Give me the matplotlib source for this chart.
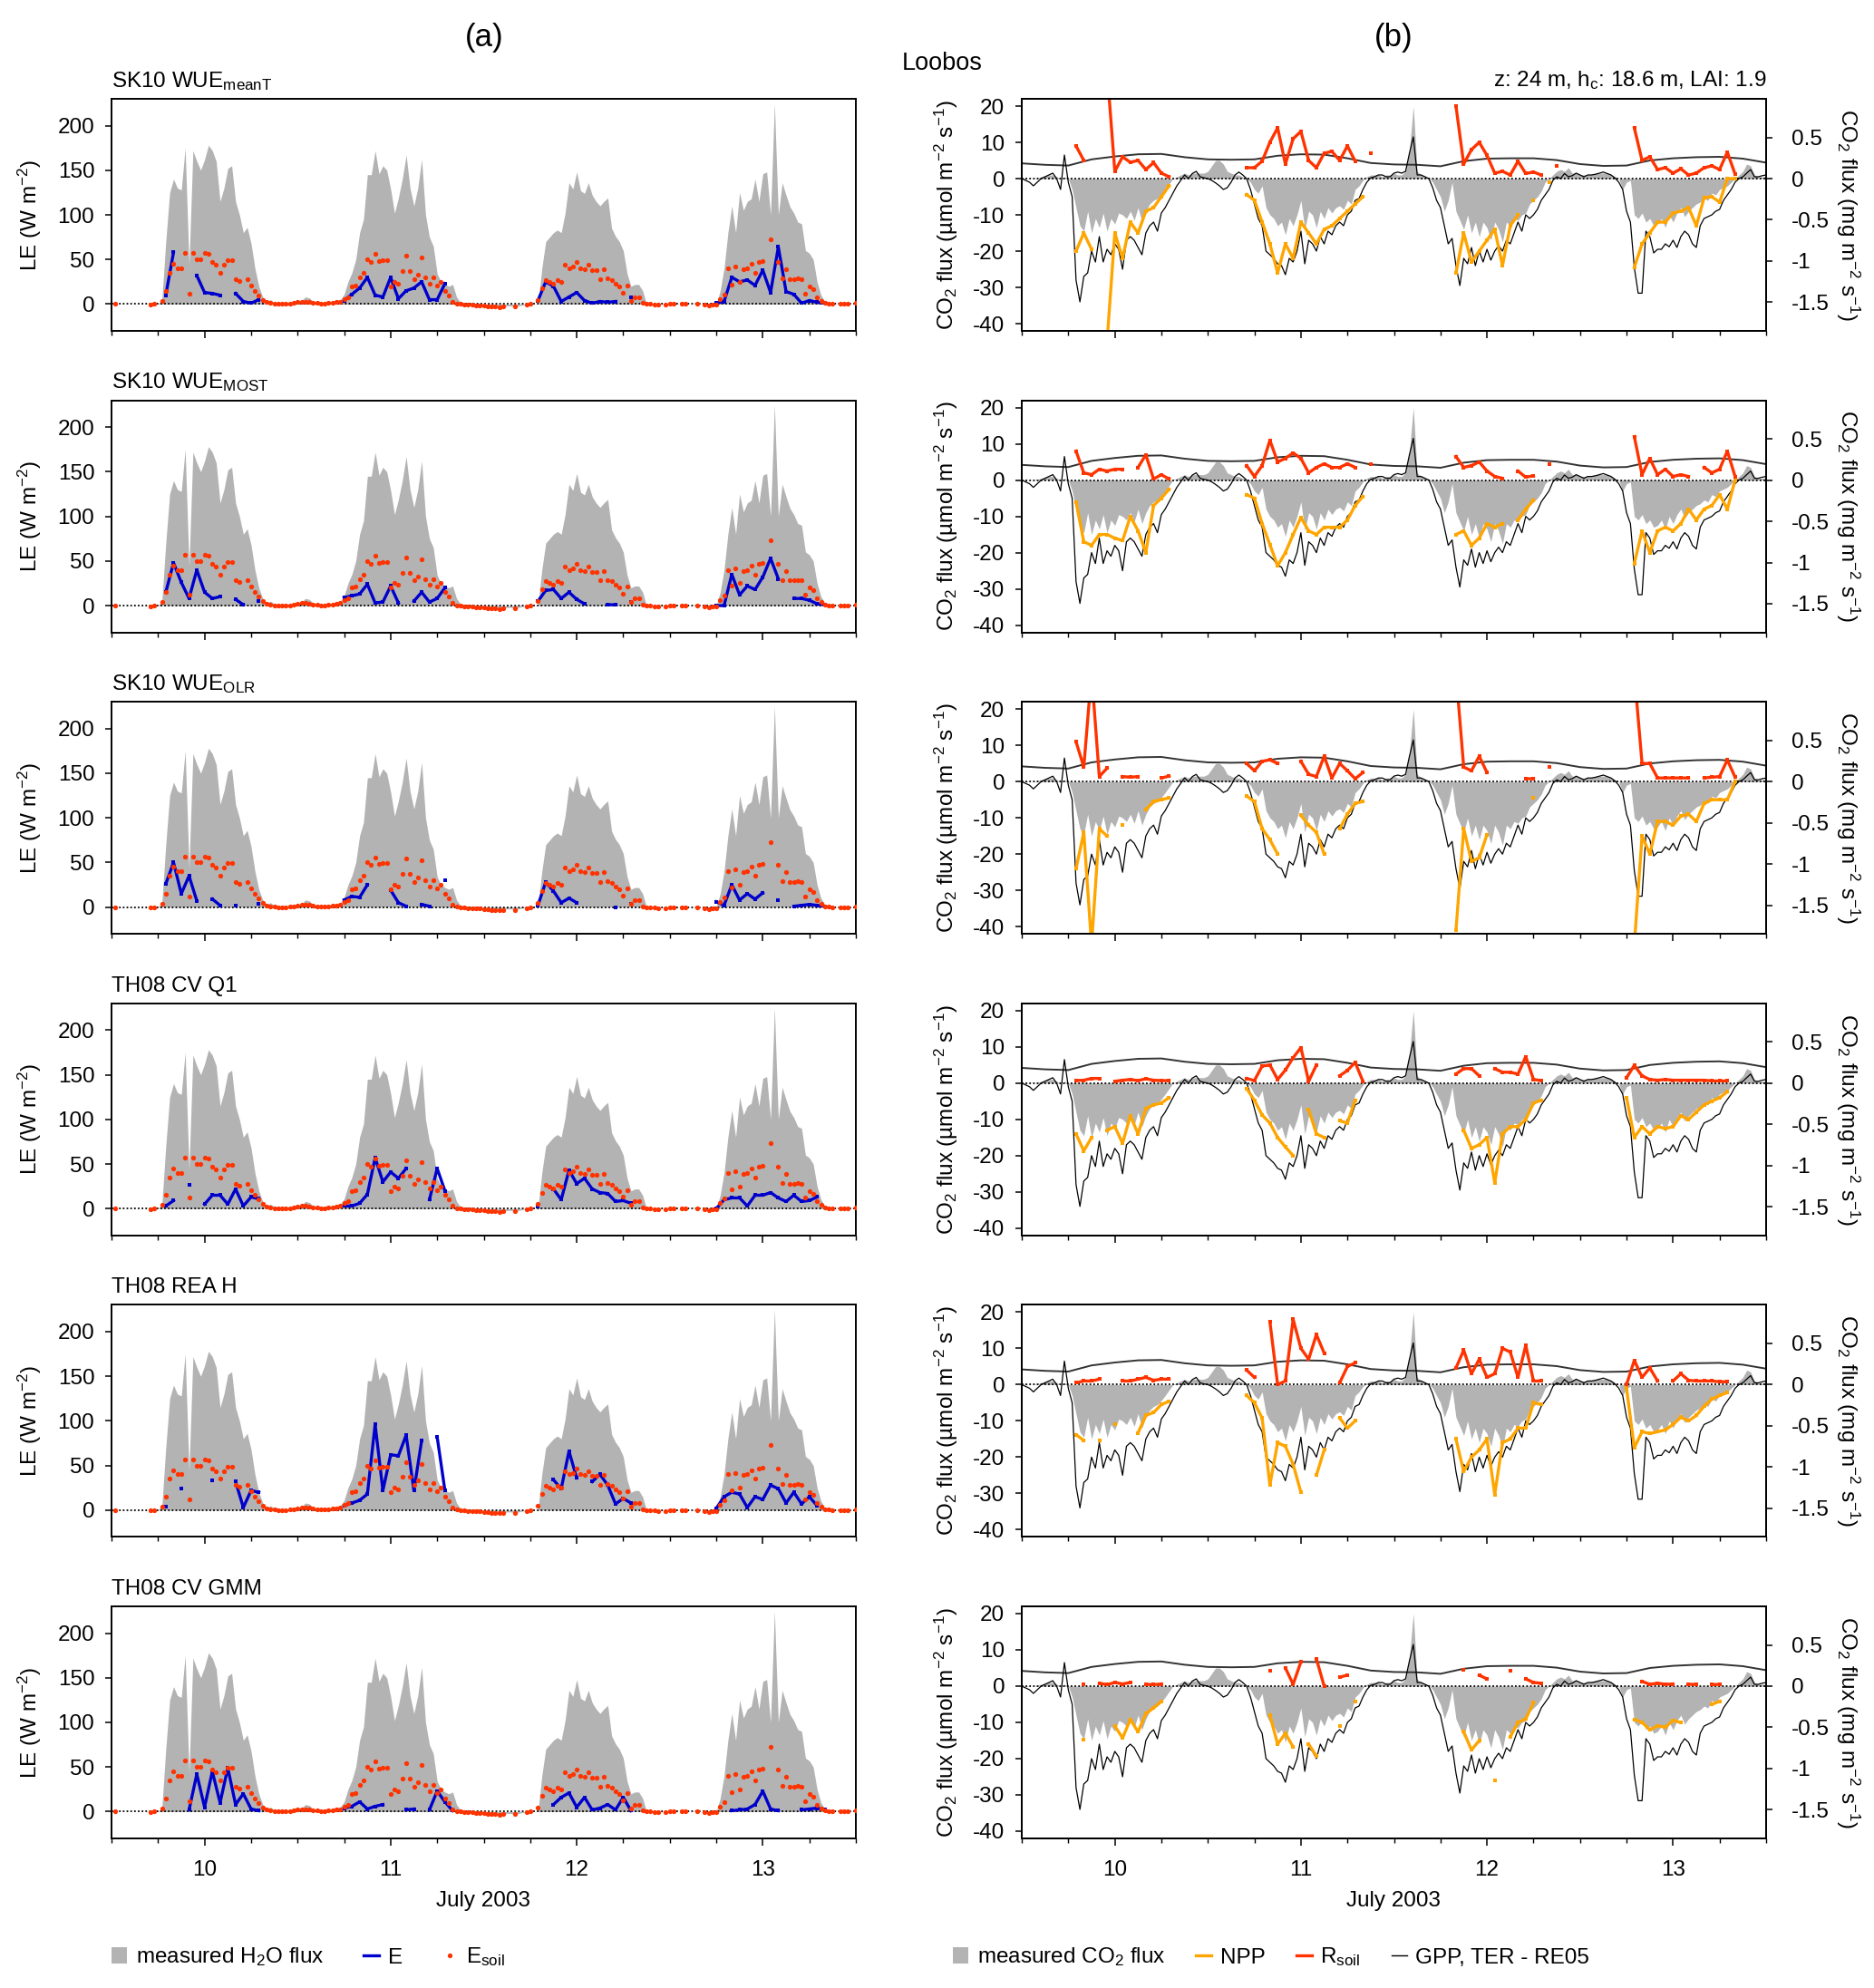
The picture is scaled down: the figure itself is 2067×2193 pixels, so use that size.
import numpy as np
import matplotlib
matplotlib.use('Agg')
import matplotlib.pyplot as plt
from matplotlib.patches import Patch
from matplotlib.lines import Line2D

plt.rcParams['font.family'] = ['Liberation Sans', 'DejaVu Sans']
plt.rcParams['mathtext.default'] = 'regular'
plt.rcParams['axes.unicode_minus'] = False

n = np.nan

# time axes (days of July 2003, label sits at noon)
t_hh = 9.5 + np.arange(193) / 48.0   # half-hourly
t_h = 9.5 + np.arange(97) / 24.0     # hourly
t_3h = 9.5 + np.arange(33) / 8.0     # 3-hourly

# ---- shared series, half-hourly ----
h2o_meas = [0, 0, 0, 0, 0, 0, 0, 0, 0, 0, 0, 0, 0,
            5, 70, 125, 140, 130, 128, 175, 44, 172, 160, 150, 162, 178, 172, 160, 115, 130, 152, 155,
            115, 100, 80, 86, 68, 40, 20, 8, 3, 5, 2, 1, 0, 0, 0, 0,
            0, 4, 8, 7, 3, 2, 2, 2, 3, 2,
            0, 5, 11, 25, 35, 50, 80, 95, 145, 145, 172, 146, 155, 150, 129, 102, 119, 140, 167, 130,
            110, 130, 162, 100, 75, 65, 34, 25, 22, 20, 22, 8, 2,
            0, -1, -2, -2, -3, -3, -4, -3, -3, -4, -3, -2, -2, -3, -2, -1, -1, 0, 0,
            0, 40, 70, 75, 80, 83, 80, 102, 136, 129, 148, 127, 124, 136, 122, 115, 110, 115, 119, 85,
            76, 70, 60, 34, 20, 22, 22, 15, 0,
            0, 0, 0, 0, 0, 0, 0, 0, 0, 0, 0, 0, 0, 0, 0, 0, 0,
            0, 15, 40, 80, 110, 80, 125, 105, 115, 118, 140, 115, 146, 148, 100, 225, 100, 136, 122, 109,
            102, 92, 90, 60, 57, 50, 25, 10, 3, 0, 0, 0, 0, 0, 0, 0, 0]

esoil = [n, 0, n, n, n, n, n, n, n, n, -0.5, 0, n,
         4, 15, 35, 45, 40, 40, 57, 12, 57, 50, 50, 57, 56, 47, 44, 35, 44, 49, 49, 28, 26, n, 28, 21,
         15, 10, 5, 2,
         1, 0.5, 0, 0, 0, 0.5, 1, 2, 3, 3, 2.5, 1.5, 1, 0.5, 0.5, 1, 1.5, 2,
         3, 6, 8, 20, 21, 30, 35, 50, 47, 56, 48, 49, 49, 20, 25, 23, 37, 54, 37, 28, 33, 52, 30, 23,
         30, 21, 25, 15, 10, 3,
         0.5, 0, -0.5, -1, -1, -1.5, -1.5, -2, -2.5, -3, -3, -3.5, -3,
         n, n, -3, n, n, -1, 0, n,
         5, 18, 27, 25, 23, 27, 25, 44, 40, 42, 47, 40, 39, 44, 38, 38, 28, 39, 29, 27, 23, 20, 13, 21,
         4, 8, 8, 1,
         0, 0, -0.5, -1, n, -1, 0, 0, n, 0, 0, n, n, 0, n, -1, -2, -1,
         -1, 6, 11, 40, 22, 42, 25, 39, 40, 45, 35, 47, 48, n, 73, n, 47, 29, 39, 28, 28, 29, 28, 12,
         20, 17, 8, 4, 1, 0.5, 0, n, 0, 0, 0, n, 1]

co2_meas = [0, 0.2, 0, 0, 0.2, 0.5, 0.8, 1, 1, 0.5, 0, 0.5, 0,
            -3, -8, -13, -14.5, -9, -15, -11, -13.5, -9.5, -14.5, -11, -12.5, -9.5, -10, -11, -9, -11.5,
            -8, -12, -9, -7, -6, -5.5, -4.4, -3, -1.5, 0, 0.5, 1,
            1.5, 1, 1.5, 1.5, 1.5, 1.5, 2, 3.5, 5, 5, 4, 2, 1.5, 1, 1, 0.5, 0,
            -1, -3, -4, -2, -8, -10, -11, -13, -12, -15.5, -11, -13, -10, -6, -14, -9, -10, -13.5, -9,
            -11, -8, -9.5, -8, -7.5, -8.5, -6, -7, -3, -2, -0.5, 0.5,
            1, 1, 1, 0.5, 1, 1, 1.5, 1, 1, 2, 8, 20, 2, 1, 0.5, 0.3, -1, -3,
            -5, -9, -6, -1, -9, -11.5, -14, -10, -15, -12, -16, -12, -13.5, -17, -12, -14, -17.5, -12,
            -13, -11, -11.5, -10, -9.5, -7, -6, -5, -3.5, -1, 0, 1,
            2, 2.5, 2, 3, 1.5, 1.5, 1, 1, 1, 1.2, 1.5, 1.5, 1.5, 1.5, 1, 0.5, 0,
            -3, -1, -0.5, -10, -11, -9.5, -12, -11, -13, -12.5, -11, -13.5, -10, -12, -9.5, -8, -10.5,
            -9, -8, -7, -6.5, -5.5, -6, -4, -4.5, -3, -2.5, -2, -1, 0, 1, 2, 4, 3.5, 1, 0.5, 0.5, 0.5]

gpp_line = [0, -0.5, -1, -2, -1, 0, 0.5, 1, 1.5, 0, -3, 6.5, -1,
            -5, -28, -34, -27, -26, -20, -23, -16, -23, -19.5, -21, -18, -19.5, -25, -17, -16, -17, -19,
            -21, -15, -13, -12, -14.5, -9.5, -8, -6, -4, -2, -0.5,
            1, 0, 1.4, 2, 0.5, 0.2, 0, -0.5, -1.2, -2, -3, -2.5, -1, 1, 1.8, 1, 0,
            -3, -7, -11, -13, -20, -21, -22, -23.5, -24, -26.5, -22, -23, -20, -14.5, -23.5, -17, -18,
            -20, -16, -18, -14.5, -15.5, -13, -12, -13, -10, -9, -6, -5.5, -3, -1,
            0.2, 0.5, 1, 1, 0.5, 0.5, 1.5, 1.8, 1.5, 2, 7, 11.5, 1, 1, 0.5, 0, -2.5, -6,
            -8, -13, -18, -16.5, -24, -29.5, -22, -23.5, -19, -24, -20, -23, -19.5, -22.5, -20, -18.5,
            -20, -17, -18, -15, -12, -14.5, -10, -11, -10, -8.5, -6, -4.5, -3, -0.5,
            0.5, 0, 1.4, 0.5, 0.8, 1.5, 1, 0.5, 1, 1, 1.2, 1.5, 1.8, 1.4, 1, 0.2, -1,
            -3, -9, -12, -24.5, -31.6, -31.6, -14.5, -16, -20.5, -19.5, -19.5, -18, -18.8, -17, -19, -16,
            -14.5, -15.5, -18, -19, -13, -11, -10.5, -10, -9, -8.5, -6, -4.5, -3, -1, 0, 0.5, 1.5, 2.5,
            0.5, 0.5, 0.8, 1]

ter_line = [4.2, 3.8, 3.6, 5.3, 6.1, 6.7, 6.8, 5.9, 5.3, 5.2, 5.3, 6.3, 6.7, 6.6, 5.6, 4.3, 3.9,
            3.8, 3.4, 4.8, 5.5, 5.6, 5.6, 5.1, 4.0, 3.5, 3.6, 5.0, 5.6, 5.9, 6.0, 5.5, 4.4]


def hourly(d1, d2, d3, d4):
    # day windows: 06-20 h, 05-21 h, 07-21 h, 06-20 h
    return np.array([n] * 6 + d1 + [n] * 8 + d2 + [n] * 9 + d3 + [n] * 8 + d4 + [n] * 4, dtype=float)


# ---- per-panel model outputs, hourly ----
e_meant = hourly([n, 10, 58, n, n, 32, 13, 12, 10, n, 12, 3, 1, 5, n],
                 [n, 4, 11, 18, 30, 10, 8, 30, 6, 15, 18, 25, 5, 5, 23, n, n],
                 [4, 25, 20, 3, 8, 13, 4, 1, 3, 2, 3, n, 8, n, n],
                 [1, 3, 30, 25, 27, 21, 38, 13, 64, 14, 11, 1, 4, 2, 1])
e_most = hourly([n, 15, 48, 26, 8, 40, 15, 8, 10, n, 7, 1, n, 5, n],
                [n, 9, 11, 13, 24, 3, 4, 22, 3, n, 5, 15, 4, 8, 20, n, n],
                [5, 17, 18, 8, 15, 7, 2, n, n, 1, 1, n, 4, n, n],
                [0, 0, 35, 12, 22, 18, 32, 53, 30, n, 8, 8, 6, 2, 1])
e_olr = hourly([n, 26, 50, 15, 35, 7, n, 9, 2, n, 2, n, n, 4, n],
               [n, 8, 12, 11, 25, n, n, 19, 5, 1, n, 3, 1, n, 30, n, n],
               [2, 28, 18, 5, 10, 5, n, n, n, n, 0, n, 4, n, n],
               [6, 2, 25, 8, 15, 9, 16, n, 8, n, 1, 2, 3, 2, 1])
e_q1 = hourly([n, 3, 9, n, 27, n, 5, 15, 15, 5, 22, 3, 13, 11, n],
              [n, 3, 3, 6, 16, 57, 30, 41, 34, 45, n, n, 10, 45, 20, n, n],
              [2, n, 22, 10, 43, 28, 34, 22, 18, 17, 8, 9, 6, n, n],
              [0, 10, 12, 12, 3, 15, 15, 18, 12, 8, 15, 8, 9, 13, n])
e_reah = hourly([n, 4, n, 24, n, n, n, 33, n, n, 32, 3, 22, 20, n],
                [n, 5, 8, 11, 18, 96, 22, 62, 61, 84, 22, 78, n, 82, 22, n, n],
                [n, n, 34, 24, 66, 36, n, 32, 40, 28, 7, 13, 8, n, n],
                [2, 15, 20, 18, 3, 15, 12, 28, 24, 8, 20, 7, 15, 5, n])
e_gmm = hourly([n, n, n, n, 2, 42, 5, 45, 10, 49, 8, 20, 3, 1, n],
               [n, 4, 6, 11, 3, 6, 8, n, n, 2, 3, n, 2, 23, 11, 1, n],
               [n, n, 8, 16, 21, 5, 16, 2, 4, 8, 2, 16, 1, n, n],
               [n, n, 1, 2, 3, 8, 23, 3, 1, n, n, 2, 3, 4, 2])

rs_meant = hourly([n, 9, 5, n, n, 30, 2, 6, 4.5, 5, 2.5, 4.4, 1.5, 0.5, n],
                  [3, 3, 4.8, 10, 14, 4, 11, 13, 5, 3, 7, 7.5, 5, 9, 4.8, n, 7],
                  [n, 20, 4, 8, 10, 6.4, 1.5, 2, 1, 4.8, 1.4, 1.8, 1, n, 3.5],
                  [n, 14, 5, 6, 2.5, 3, 1.5, 2.7, 1, 1.5, 3, 3.5, 2.5, 7.3, 1.2])
npp_meant = hourly([n, -20, -15, -19.5, n, -45, -15, -22, -12, -15, -9, -8, -5, -2, n],
                   [-4.4, -6, -12, -18, -26, -18, -22, -12, -15, -18, -14, -13, -11, -9, -7, -5, n],
                   [n, -26, -15, -23, -20, -17, -14, -24, -13, -10, n, -6, n, -1, n],
                   [n, -24.5, -18, -15, -12, -12, -9.5, -9, -8, -13, -5.3, -5, -6.5, 0, 0])
rs_most = hourly([n, 8, 2, 1.5, 3, 2.5, 3, 3, n, 3.5, 7, 0.3, 1.5, 0.3, n],
                 [4, 1, 4, 11, 5, 6, 7.5, 6, 2, 3.5, 4.5, 3.5, 3.5, 4.5, 3.5, n, 4.5],
                 [n, 6.5, 3.5, 4, 5, 2.5, 1, 0.5, n, 2.5, 0.8, 1.2, n, 4.4, n],
                 [n, 12, 1.5, 6, 1.5, 3, 1, 1.5, 1, n, 3.5, 2, 3, 8, 1])
npp_most = hourly([n, -6, -17, -18, -15, -15, -16, -16.7, -10, -14, -20, -7, -5, -2.5, n],
                  [-4, -5, -12, -17.8, -23.6, -20, -15, -10.3, -14, -15, -13, -13, -13, -11, -7, -4.5, n],
                  [n, -15, -14, -18, -16, -12, -13, -12, n, -11, -8, -5.5, n, n, n],
                  [n, -23, -14, -20, -14, -13, -14, -12, -8, -11, -8, -7, -4, -8, 0])
rs_olr = hourly([n, 11, 4, 30, 1.4, 3.7, n, 1.4, 1.2, 1.4, n, n, 1, 1.5, n],
                [5, 3, 5.6, 6, 5, n, n, 5.6, 2, 1.4, 7, 1, 5, 3, 0.8, 2.5, n],
                [n, 30, 4, 3, 7, 2.5, n, n, n, n, 0.8, 0.8, n, 4, n],
                [n, 30, 5, 5, 1, 1, 1, 1, 1, n, 1, 1.2, 1.4, 6, 1.2])
npp_olr = hourly([n, -24, -14, -45, -13, -15, n, -12, n, n, -7.7, -5.5, -5, -4.5, n],
                 [-4, -5.5, -13, -16, -20, n, n, -9.3, -12, -14, -20, n, -13, -9, -6, -5.5, n],
                 [n, -41, -13, -22, -21, -14.6, n, n, n, n, n, -4.5, n, n, n],
                 [n, -45, -15, -20, -11, -11, -12, -9.5, -9, -11, -6, -5, -5, -5, 0])
rs_q1 = hourly([n, 0.7, 0.8, 1.3, 1.3, n, 0.5, 0.8, 1, 0.7, 1.2, 0.8, 0.7, 0.7, n],
               [1.3, 0.7, 4.7, 5, 1, 3.6, 7, 9.8, 0.5, 5, n, n, 2, 3.5, 5.7, 0.5, n],
               [n, 2.5, 4, 4, 2, n, 4, 3, 3, 2.5, 7.3, 1, 0.7, n, n],
               [1.5, 4.9, 2, 1, 0.8, 1, 0.8, 0.8, 0.8, 0.8, 0.8, 0.6, 0.6, 0.6, n])
npp_q1 = hourly([n, -14, -18.7, -15, n, -13, -12, -16.6, -9, -14, -7, -6, -5.5, -4, n],
                [-1.5, -4.7, -8.8, -11, -15, -17.6, -20, n, -7.3, -14, -15, n, -10.4, -11, -4.7, n, n],
                [n, n, -13, -18, -17, -15, -27.5, -14, -12, -12, -10, -5.5, -4.7, n, n],
                [-4, -15, -12, -14, -12, -12.5, -12, -9, -10, -8, -6, -5, -4, -2.4, n])
rs_reah = hourly([n, 0.5, 1, 1, 1.5, n, n, 1, 1, 1.5, 2, 1.2, 1.5, 1.5, n],
                 [4, 2, n, 17.4, 0, 1, 18, 10, 7, 13.8, 8.7, n, 0.5, 5, 6, n, n],
                 [n, 4.6, 9.5, 3, 7, 2, 3, 10, 9, 2, 10.8, 1, 1, n, n],
                 [0, 6.7, 2, 4.6, 1, n, 1, 3, 1.2, 1, 1, 1, 0.8, 0.8, n])
npp_reah = hourly([n, -13.8, -15.4, n, -15.4, n, -10.8, n, n, -13.3, -8.5, -7.7, -5.5, -4.6, n],
                  [-3, -5, -9.2, -27.7, -16, -17, -22, -29.7, n, -25, -18, n, -9.2, -12, -10, n, n],
                  [n, -15, -24, -20, -18, -15, -30.3, -16, -15, -12, -12, -5, -5.5, n, n],
                  [-1, -17.4, -13, -13.5, -13, -12.5, -11, -9, -10, -8.5, -6, -4, -3, -2.2, n])
rs_gmm = hourly([n, n, 0.5, n, 0.8, 0.4, 1, 0.6, 1, n, 0.5, 0.4, 0.6, n, n],
                [n, n, n, 4.2, n, 5, 0.5, 6.7, n, 7.5, 0, n, 2.5, 3, n, n, n],
                [n, n, 4.5, n, 3, 2, n, n, 4.2, n, 2, 1, 0.8, n, n],
                [n, n, 1.3, 0.5, 0.8, 0.5, 0.6, n, 0.5, 0.5, n, 0.4, 0.5, n, n])
npp_gmm = hourly([n, n, -14.7, n, n, n, -11, -14.3, -9.2, -12.6, -7.6, -6, -4.2, n, n],
                 [n, n, n, -8, -16, -13, -16.8, n, -16, -19.3, n, n, -11, n, -4.2, n, n],
                 [n, n, -12.6, -17.6, -15, n, -26, n, -14, -10, -9, -4.6, n, n, n],
                 [n, -9.2, -10, -12, -11, -11.3, -9.5, -10, n, n, n, -5, -4.2, n, n])

titles = ['SK10 WUE$_{meanT}$', 'SK10 WUE$_{MOST}$', 'SK10 WUE$_{OLR}$',
          'TH08 CV Q1', 'TH08 REA H', 'TH08 CV GMM']
e_runs = [e_meant, e_most, e_olr, e_q1, e_reah, e_gmm]
npp_runs = [npp_meant, npp_most, npp_olr, npp_q1, npp_reah, npp_gmm]
rs_runs = [rs_meant, rs_most, rs_olr, rs_q1, rs_reah, rs_gmm]

GRAY = '#b3b3b3'
BLUE = '#0000cc'
RED = '#ff3300'
ORANGE = '#ffa500'
FS = 17.5

W, H = 2067, 2193
fig = plt.figure(figsize=(W / 100, H / 100), dpi=100)


def style_x(ax, last):
    ax.set_xlim(9.5, 13.5)
    ax.set_xticks([10, 11, 12, 13])
    ax.set_xticks(np.arange(9.5, 13.51, 0.25), minor=True)
    ax.tick_params(axis='x', which='major', length=6, width=1.1, direction='out', pad=11,
                   labelsize=FS, labelbottom=last)
    ax.tick_params(axis='x', which='minor', length=3.5, width=1.0, direction='out')
    for s in ax.spines.values():
        s.set_linewidth(1.4)


for r in range(6):
    top = 109 + 332.6 * r
    y0 = 1 - (top + 256) / H
    axL = fig.add_axes([123 / W, y0, 821 / W, 256 / H])
    axR = fig.add_axes([1127 / W, y0, 821 / W, 256 / H])
    last = r == 5

    # (a) water fluxes
    axL.fill_between(t_hh, 0, h2o_meas, color=GRAY, lw=0, zorder=1)
    axL.axhline(0, color='k', lw=1.3, ls=(0, (1, 1.3)), zorder=2)
    axL.plot(t_h, e_runs[r], color=BLUE, lw=2.4, marker='s', ms=2.4, mew=0, zorder=3)
    axL.plot(t_hh, esoil, 'o', color=RED, ms=3.8, mew=0, zorder=4)
    axL.set_ylim(-30, 230)
    axL.set_yticks([0, 50, 100, 150, 200])
    axL.tick_params(axis='y', length=5, width=1.1, pad=8.5, labelsize=FS)
    style_x(axL, last)
    axL.set_ylabel('LE (W m$^{-2}$)', fontsize=FS)
    axL.yaxis.set_label_coords(-0.091, 0.5)
    axL.text(0, 1 + 13 / 256, titles[r], transform=axL.transAxes, fontsize=FS,
             ha='left', va='baseline')

    # (b) carbon fluxes
    axR.fill_between(t_hh, 0, co2_meas, color=GRAY, lw=0, zorder=1)
    axR.axhline(0, color='k', lw=1.3, ls=(0, (1, 1.3)), zorder=2)
    axR.plot(t_3h, ter_line, color='#333333', lw=1.4, zorder=3)
    axR.plot(t_hh, gpp_line, color='k', lw=0.9, zorder=3)
    axR.plot(t_h, npp_runs[r], color=ORANGE, lw=2.4, marker='s', ms=2.4, mew=0, zorder=4)
    axR.plot(t_h, rs_runs[r], color=RED, lw=2.4, marker='s', ms=2.4, mew=0, zorder=4)
    axR.set_ylim(-42, 22)
    axR.set_yticks([-40, -30, -20, -10, 0, 10, 20])
    axR.tick_params(axis='y', length=5, width=1.1, pad=8.5, labelsize=FS)
    style_x(axR, last)
    axR.set_ylabel('CO$_2$ flux (µmol m$^{-2}$ s$^{-1}$)', fontsize=FS)
    axR.yaxis.set_label_coords(-0.083, 0.5)

    axR2 = axR.twinx()
    axR2.set_ylim(-42 * 0.044, 22 * 0.044)
    axR2.set_yticks([-1.5, -1, -0.5, 0, 0.5])
    axR2.set_yticklabels(['-1.5', '-1', '-0.5', '0', '0.5'])
    axR2.tick_params(axis='y', length=5, width=1.1, pad=15, labelsize=FS)
    axR2.set_ylabel('CO$_2$ flux (mg m$^{-2}$ s$^{-1}$)', fontsize=FS, rotation=270)
    axR2.yaxis.label.set_verticalalignment('bottom')
    axR2.yaxis.set_label_coords(1.091, 0.5)
    for s in axR2.spines.values():
        s.set_linewidth(1.4)

# header texts
fig.text(534 / W, 1 - 41 / H, '(a)', fontsize=25, ha='center', va='center')
fig.text(1537 / W, 1 - 41 / H, '(b)', fontsize=25, ha='center', va='center')
fig.text(995 / W, 1 - 77 / H, 'Loobos', fontsize=19.5, ha='left', va='baseline')
fig.text(1948 / W, 1 - 95 / H, 'z: 24 m, h$_c$: 18.6 m, LAI: 1.9', fontsize=FS,
         ha='right', va='baseline')
fig.text(533 / W, 1 - 2097 / H, 'July 2003', fontsize=FS, ha='center', va='center')
fig.text(1537 / W, 1 - 2097 / H, 'July 2003', fontsize=FS, ha='center', va='center')

# legends
h_left = [Patch(facecolor=GRAY, edgecolor='none'),
          Line2D([], [], color=BLUE, lw=2.4),
          Line2D([], [], color=RED, marker='o', ls='none', ms=3.8, mew=0)]
fig.legend(h_left, ['measured H$_2$O flux', 'E', 'E$_{soil}$'], loc='center left',
           bbox_to_anchor=(123 / W, 1 - 2159 / H), ncol=3, frameon=False, fontsize=FS,
           handlelength=0.7, handleheight=0.75, handletextpad=0.4, columnspacing=1.8,
           borderpad=0, borderaxespad=0)
h_right = [Patch(facecolor=GRAY, edgecolor='none'),
           Line2D([], [], color=ORANGE, lw=2.4),
           Line2D([], [], color=RED, lw=2.4),
           Line2D([], [], color='k', lw=1.0)]
fig.legend(h_right, ['measured CO$_2$ flux', 'NPP', 'R$_{soil}$', 'GPP, TER - RE05'],
           loc='center left', bbox_to_anchor=(1051 / W, 1 - 2159 / H), ncol=4, frameon=False,
           fontsize=FS, handlelength=0.7, handleheight=0.75, handletextpad=0.4,
           columnspacing=1.4, borderpad=0, borderaxespad=0)

fig.savefig('out.png', dpi=100)
